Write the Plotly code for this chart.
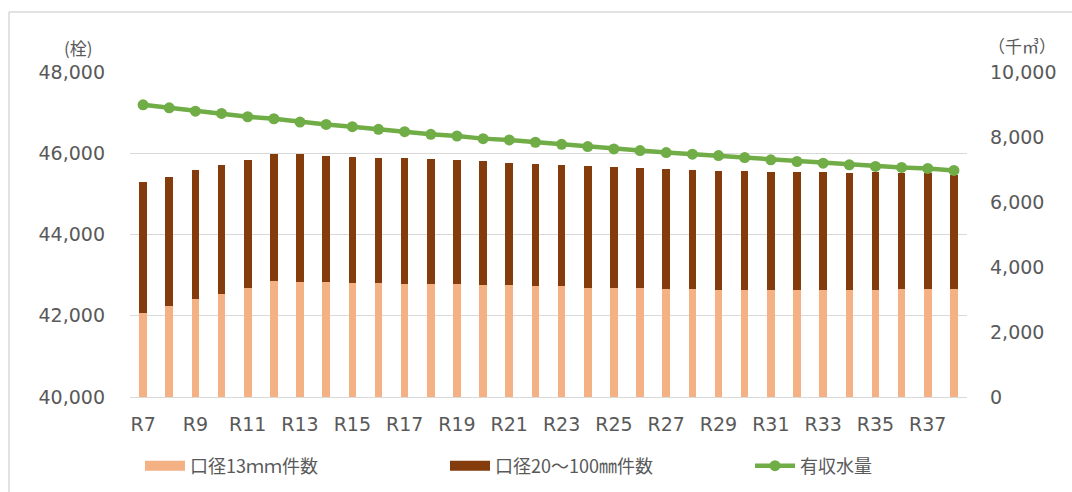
import plotly.graph_objects as go

years = [f"R{i}" for i in range(7, 39)]
tick_labels = [f"R{i}" for i in range(7, 39, 2)]

# 口径13mm件数 (栓)
small_meters = [42074, 42230, 42402, 42533, 42689, 42861, 42836, 42820, 42804, 42804,
                42771, 42771, 42771, 42746, 42746, 42722, 42722, 42689, 42689, 42689,
                42664, 42664, 42640, 42640, 42640, 42640, 42640, 42640, 42640, 42664,
                42664, 42664]
# 合計 (栓) -> 口径20～100mm件数 = total - small
total_meters = [45282, 45420, 45576, 45706, 45837, 45976, 45976, 45943, 45910, 45894,
                45878, 45853, 45837, 45804, 45771, 45747, 45706, 45698, 45673, 45649,
                45624, 45592, 45567, 45567, 45543, 45543, 45543, 45510, 45527, 45510,
                45505, 45460]
large_meters = [t - s for t, s in zip(total_meters, small_meters)]
# 有収水量 (千㎥)
water_volume = [8990, 8898, 8796, 8725, 8623, 8562, 8460, 8388, 8317, 8235,
                8164, 8082, 8031, 7950, 7909, 7838, 7776, 7705, 7633, 7583,
                7521, 7470, 7430, 7368, 7297, 7246, 7195, 7144, 7093, 7062,
                7032, 6970]

names = ["口径13ｍｍ件数", "口径20～100㎜件数", "有収水量"]
colors = ["#F4B183", "#843C0C", "#70AD47"]

TEXT = "#595959"
FONT = "DejaVu Sans, Noto Sans CJK JP, sans-serif"
CJK = "Noto Sans CJK JP, sans-serif"

fig = go.Figure()
fig.add_trace(go.Bar(x=years, y=small_meters, name=names[0], showlegend=False,
                     legendgroup="a", marker=dict(color=colors[0], line=dict(width=0))))
fig.add_trace(go.Bar(x=years, y=large_meters, name=names[1], showlegend=False,
                     legendgroup="b", marker=dict(color=colors[1], line=dict(width=0))))
# legend swatches drawn as wide bands, as in the reference
fig.add_trace(go.Scatter(x=[None], y=[None], name=names[0], mode="lines", legendgroup="a",
                         line=dict(color=colors[0], width=12)))
fig.add_trace(go.Scatter(x=[None], y=[None], name=names[1], mode="lines", legendgroup="b",
                         line=dict(color=colors[1], width=12)))
fig.add_trace(go.Scatter(x=years, y=water_volume, name=names[2], yaxis="y2",
                         mode="lines+markers",
                         line=dict(color=colors[2], width=4.5),
                         marker=dict(color=colors[2], size=11)))

# plot area: x 130..967, y 72..397
W, H = 1072, 492
L, R, T, B = 130, 967, 72, 397
def px(x):
    return (x - L) / (R - L)
def py(y):
    return (B - y) / (B - T)

fig.update_layout(
    width=W, height=H,
    margin=dict(l=L, r=W - R, t=T, b=H - B, autoexpand=False),
    paper_bgcolor="white", plot_bgcolor="white",
    barmode="stack", bargap=0.71,
    font=dict(family=FONT, color=TEXT, size=18),
    showlegend=True,
    legend=dict(orientation="h", x=px(1055), xanchor="right", y=py(466), yanchor="middle",
                font=dict(family=CJK, size=18, color=TEXT), itemwidth=40,
                entrywidth=250, entrywidthmode="pixels",
                traceorder="normal"),
    xaxis=dict(type="category", categoryorder="array", categoryarray=years,
               range=[-0.5, len(years) - 0.5],
               tickmode="array", tickvals=tick_labels, ticktext=tick_labels,
               showgrid=False, showline=True, linecolor="#D9D9D9", linewidth=1,
               ticks="", ticklabelstandoff=10,
               tickfont=dict(family=FONT, size=19, color=TEXT)),
    yaxis=dict(range=[40000, 48000], dtick=2000, tickformat=",",
               showgrid=True, gridcolor="#D9D9D9", gridwidth=1, zeroline=False,
               ticks="", ticklabelstandoff=24,
               tickfont=dict(family=FONT, size=19, color=TEXT)),
    yaxis2=dict(range=[0, 10000], dtick=2000, tickformat=",", overlaying="y", side="right",
                showgrid=False, zeroline=False, ticks="", ticklabelstandoff=22,
                tickfont=dict(family=FONT, size=19, color=TEXT)),
    annotations=[
        dict(text="(栓)", xref="paper", yref="paper", x=px(78), y=py(47),
             xanchor="center", yanchor="middle", showarrow=False,
             font=dict(family=CJK, size=17, color=TEXT)),
        dict(text="（千㎥）", xref="paper", yref="paper", x=px(1022), y=py(45),
             xanchor="center", yanchor="middle", showarrow=False,
             font=dict(family=CJK, size=17, color=TEXT)),
    ],
    shapes=[
        dict(type="line", xref="paper", yref="paper", x0=px(9), x1=px(9), y0=py(12), y1=py(500),
             line=dict(color="#D9D9D9", width=1.5)),
        dict(type="line", xref="paper", yref="paper", x0=px(9), x1=px(1080), y0=py(12), y1=py(12),
             line=dict(color="#D9D9D9", width=1.5)),
    ],
)

fig.write_html("out.html")
